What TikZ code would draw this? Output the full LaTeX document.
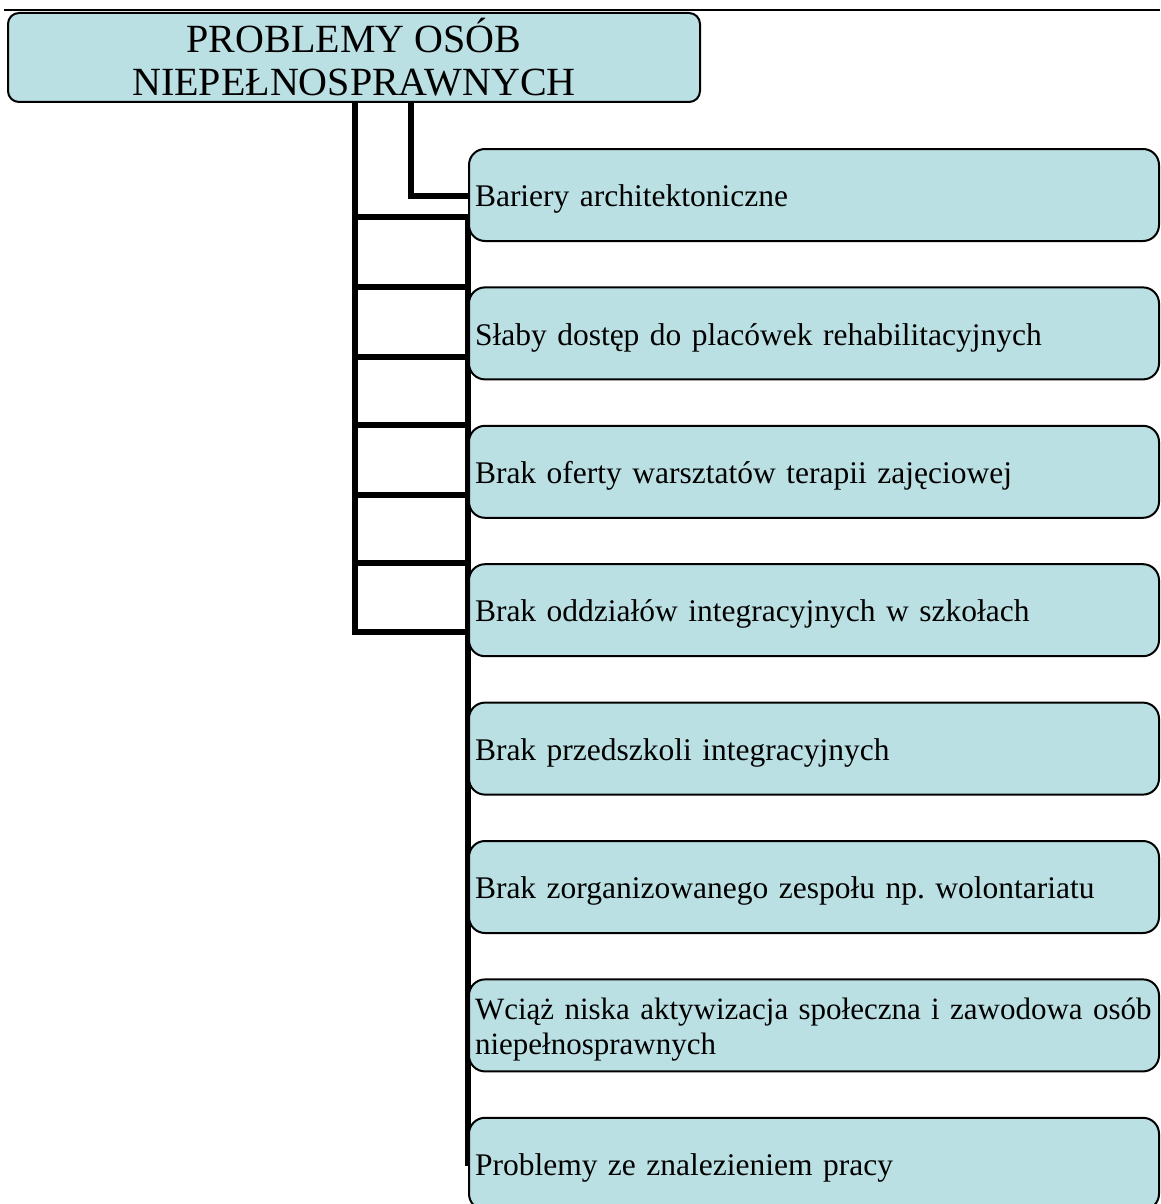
\documentclass[tikz,border=0pt]{standalone}
\usepackage{fontspec}
\setmainfont{Liberation Serif}
\frenchspacing
\usetikzlibrary{
    positioning,
    backgrounds
}
\definecolor{boxfill}{HTML}{BBE0E3}
\tikzset{
  topbox/.style={draw=black, line width=2pt, fill=boxfill, rounded corners=11pt,
    minimum width=692pt, minimum height=89pt, inner sep=0pt, align=center,
    font=\fontsize{40}{43}\selectfont},
  itembox/.style={draw=black, line width=2pt, fill=boxfill, rounded corners=16pt,
    text width=678pt, minimum height=92pt, inner xsep=6pt, inner ysep=0pt,
    align=left, anchor=north west, font=\fontsize{31.5}{35}\selectfont,
    execute at begin node={\rule{0pt}{30pt}}},
  link/.style={line width=5.5pt, line cap=rect}
}

\begin{document}
\begin{tikzpicture}[x=1pt,y=-1pt]
\useasboundingbox (0,0) rectangle (1160,1204);

% rule at the very top
\coordinate (RuleL) at (4,10);
\coordinate (RuleR) at (1160,10);
\draw[line width=2pt] (RuleL) -- (RuleR);

\node[topbox] (top) at (354,57.5) {PROBLEMY OSÓB\\NIEPEŁNOSPRAWNYCH};

\node[itembox] (b1) at (468,148) {Bariery architektoniczne};
\node[itembox, below=44.4pt of b1] (b2) {Słaby dostęp do placówek rehabilitacyjnych};
\node[itembox, below=44.4pt of b2] (b3) {Brak oferty warsztatów terapii zajęciowej};
\node[itembox, below=44.4pt of b3] (b4) {Brak oddziałów integracyjnych w szkołach};
\node[itembox, below=44.4pt of b4] (b5) {Brak przedszkoli integracyjnych};
\node[itembox, below=44.4pt of b5] (b6) {Brak zorganizowanego zespołu np. wolontariatu};
\node[itembox, below=44.4pt of b6, font=\fontsize{31}{35}\selectfont] (b7)
  {\mbox{Wciąż niska aktywizacja społeczna i zawodowa osób}\\niepełnosprawnych};
\node[itembox, below=44.4pt of b7] (b8) {Problemy ze znalezieniem pracy};

% junctions of the connector frame
\coordinate (S0) at (411,101);
\coordinate (S1) at (411,196);
\coordinate (T0) at (355,101);
\coordinate (T1) at (355,217);  \coordinate (R1) at (468,217);
\coordinate (T2) at (355,287);  \coordinate (R2) at (468,287);
\coordinate (T3) at (355,357);  \coordinate (R3) at (468,357);
\coordinate (T4) at (355,425);  \coordinate (R4) at (468,425);
\coordinate (T5) at (355,495);  \coordinate (R5) at (468,495);
\coordinate (T6) at (355,563);  \coordinate (R6) at (468,563);
\coordinate (T7) at (355,632);  \coordinate (R7) at (468,632);
\coordinate (R8) at (468,1163);

\begin{scope}[on background layer]
\draw[link] (S0) -- (S1) -- (S1 -| b1.west);
\draw[link] (T0) -- (T7);
\draw[link] (T1) -- (R1);
\draw[link] (T2) -- (R2);
\draw[link] (T3) -- (R3);
\draw[link] (T4) -- (R4);
\draw[link] (T5) -- (R5);
\draw[link] (T6) -- (R6);
\draw[link] (T7) -- (R7);
\draw[link] (R1) -- (R8);
\end{scope}
\end{tikzpicture}
\end{document}
